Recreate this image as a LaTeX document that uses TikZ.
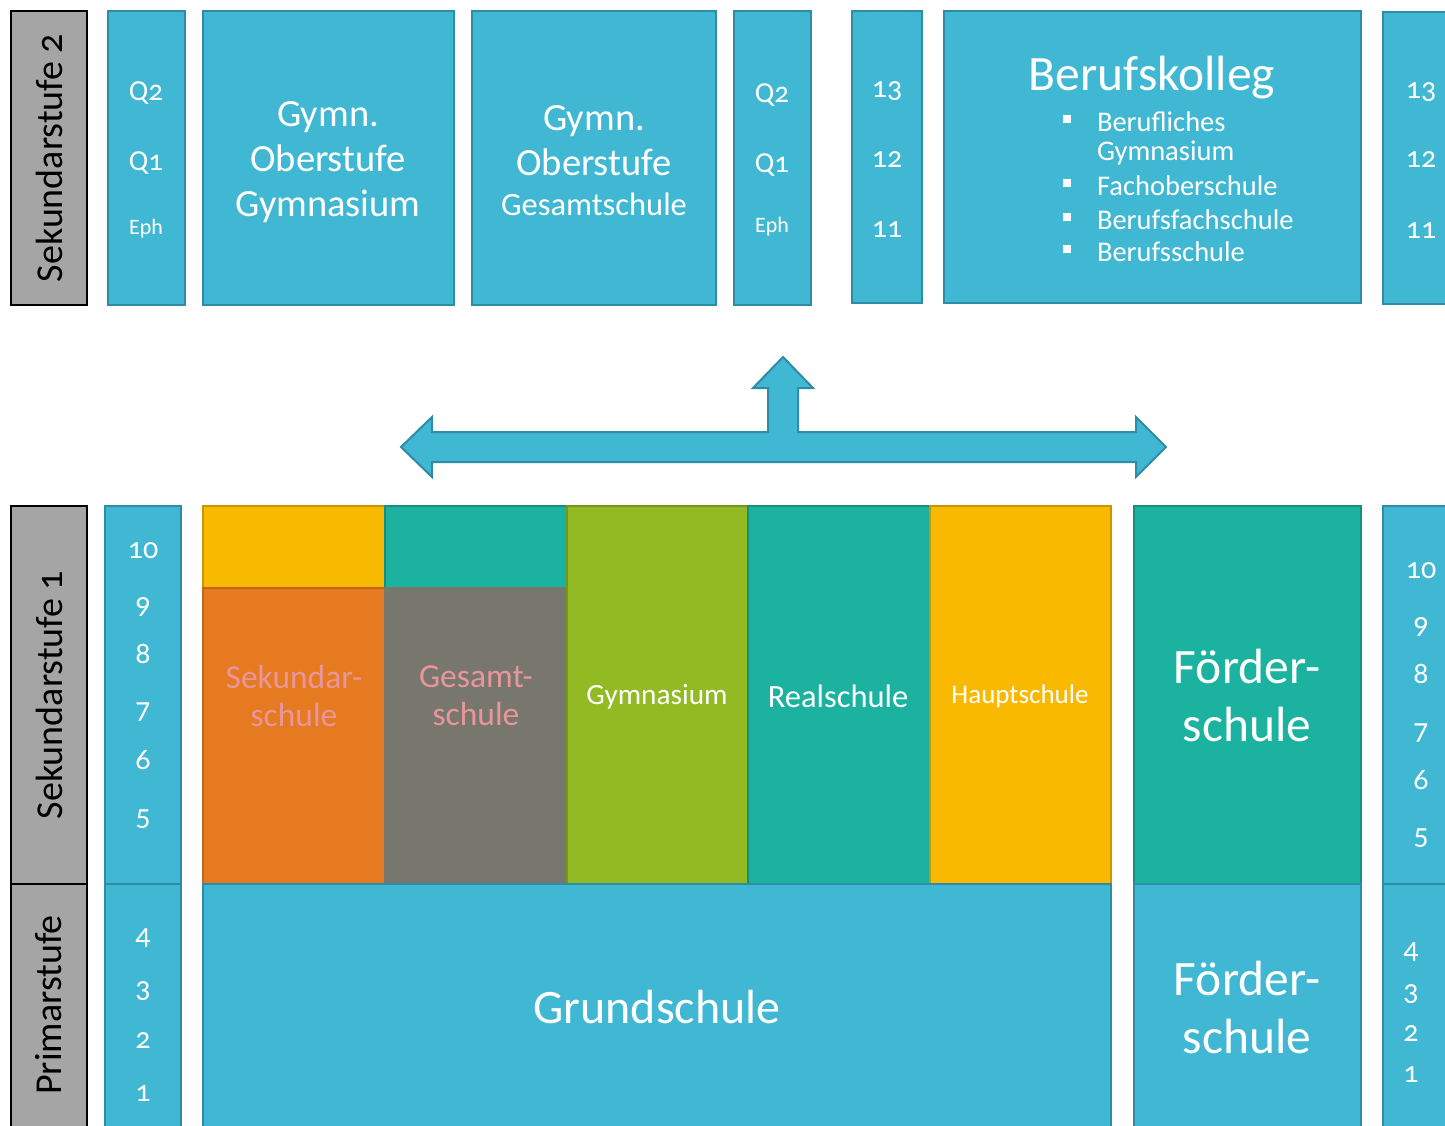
\documentclass[tikz,border=0pt]{standalone}
\usepackage{fontspec}
\setmainfont{Carlito}[Numbers=OldStyle]
\definecolor{cblue}{HTML}{41B8D3}
\definecolor{dblue}{HTML}{2E8CA6}
\definecolor{cteal}{HTML}{1BB3A0}
\definecolor{dteal}{HTML}{168F80}
\definecolor{cgreen}{HTML}{92BB23}
\definecolor{dgreen}{HTML}{75961C}
\definecolor{corange}{HTML}{E67A20}
\definecolor{dorange}{HTML}{C0651A}
\definecolor{cyellow}{HTML}{F9B900}
\definecolor{dyellow}{HTML}{C99600}
\definecolor{cgray}{HTML}{77776E}
\definecolor{lgray}{HTML}{A5A5A5}
\definecolor{pinktext}{HTML}{E8969B}
\newcommand{\fs}[1]{\fontsize{#1}{#1}\selectfont}
\begin{document}
\begin{tikzpicture}[x=1pt,y=-1pt,
  every node/.style={inner sep=0pt, outer sep=0pt, text=white, font=\fs{24}},
  rbox/.style={anchor=north west, line width=2pt},
  bluebox/.style={rbox, draw=dblue, fill=cblue},
  tealbox/.style={rbox, draw=dteal, fill=cteal},
  greenbox/.style={rbox, draw=dgreen, fill=cgreen},
  orangebox/.style={rbox, draw=dorange, fill=corange},
  yellowbox/.style={rbox, draw=dyellow, fill=cyellow},
  graybox/.style={rbox, draw=cgray, fill=cgray},
  labelbox/.style={rbox, draw=black, fill=lgray},
  labeltext/.style={rotate=90, text=black, font=\fs{38}},
  num/.style={font=\fs{30}},
  big/.style={align=center, font=\fontsize{38.5}{45}\selectfont},
]
\useasboundingbox (0,0) rectangle (1445,1126);
\clip (0,0) rectangle (1445,1126);

% ---------- Sekundarstufe 2 ----------
\node[labelbox, minimum width=76, minimum height=294] (s2) at (11,11) {};
\node[labeltext] (s2t) at (49,158) {Sekundarstufe 2};

\node[bluebox, minimum width=77, minimum height=294] (qa) at (108,11) {};
\node[font=\fs{29}] (qa2) at (146,93) {Q2};
\node[font=\fs{29}] (qa1) at (146,163) {Q1};
\node[font=\fs{22}] (qae) at (146,229) {Eph};

\node[bluebox, minimum width=251, minimum height=294] (gym) at (203,11) {};
\node[big] (gymt) at (328,162) {Gymn.\\Oberstufe\\Gymnasium};

\node[bluebox, minimum width=244, minimum height=294] (ges) at (472,11) {};
\node[big] (gest) at (594,141) {Gymn.\\Oberstufe};
\node[font=\fs{32.5}] (gest2) at (594,204) {Gesamtschule};

\node[bluebox, minimum width=77, minimum height=294] (qb) at (734,11) {};
\node[font=\fs{29}] (qb2) at (772,95) {Q2};
\node[font=\fs{29}] (qb1) at (772,165) {Q1};
\node[font=\fs{22}] (qbe) at (772,227) {Eph};

\node[bluebox, minimum width=70, minimum height=292] (ka) at (852,11) {};
\node[num] (ka13) at (887,91) {13};
\node[num] (ka12) at (887,160) {12};
\node[num] (ka11) at (887,230) {11};

\node[bluebox, minimum width=417, minimum height=292] (bk) at (944,11) {};
\node[font=\fs{49.5}] (bkt) at (1152,78) {Berufskolleg};
\foreach \yy/\tt [count=\i] in {122/Berufliches, 153/Gymnasium, 186/Fachoberschule, 220/Berufsfachschule, 252/Berufsschule}{
  \node[anchor=west, font=\fs{28.5}] (bkl\i) at (1097,\yy) {\tt};
}
\foreach \yy [count=\i] in {122,186,220,252}{
  \node[fill=white, minimum width=8, minimum height=8] (bkb\i) at (1067,\yy-3) {};
}

\node[bluebox, minimum width=80, minimum height=292] (kb) at (1383,12) {};
\node[num] (kb13) at (1421,92) {13};
\node[num] (kb12) at (1421,160) {12};
\node[num] (kb11) at (1421,231) {11};

% ---------- block arrow ----------
\coordinate (al) at (401,447);
\coordinate (ar) at (1166,447);
\coordinate (au) at (783,357);
\draw[draw=dblue, fill=cblue, line width=2pt, line join=miter]
  (al) -- (432,417) -- (432,432) -- (768,432) -- (768,388) -- (753,388) -- (au)
  -- (813,388) -- (798,388) -- (798,432) -- (1136,432) -- (1136,417) -- (ar)
  -- (1136,477) -- (1136,462) -- (432,462) -- (432,477) -- cycle;

% ---------- Sekundarstufe 1 / Primarstufe ----------
\node[labelbox, minimum width=76, minimum height=378] (s1) at (11,506) {};
\node[labeltext] (s1t) at (49,695) {Sekundarstufe 1};
\node[labelbox, minimum width=76, minimum height=260] (pr) at (11,884) {};
\node[labeltext] (prt) at (49,1005) {Primarstufe};

\node[bluebox, minimum width=76, minimum height=378] (ga) at (105,506) {};
\node[bluebox, minimum width=76, minimum height=260] (gb) at (105,884) {};
\foreach \n/\yy in {10/551, 9/607, 8/654, 7/712, 6/760, 5/819, 4/938, 3/991, 2/1041, 1/1094}{
  \node[num] (gl\n) at (143,\yy) {\n};
}

\node[yellowbox, minimum width=182, minimum height=82] (sekt) at (203,506) {};
\node[orangebox, minimum width=182, minimum height=296] (sek) at (203,588) {};
\node[align=center, text=pinktext, font=\fontsize{33.5}{38}\selectfont] (sekx) at (294,696) {Sekundar-\\schule};

\node[tealbox, minimum width=182, minimum height=82] (gestop) at (385,506) {};
\node[graybox, minimum width=182, minimum height=296] (gesb) at (385,588) {};
\node[align=center, text=pinktext, font=\fontsize{33.5}{38}\selectfont] (gesx) at (476,696) {Gesamt-\\schule};

\node[greenbox, minimum width=181, minimum height=378] (gy) at (567,506) {};
\node[font=\fs{29.3}] (gyx) at (657,697) {Gymnasium};
\node[tealbox, minimum width=182, minimum height=378] (rs) at (748,506) {};
\node[font=\fs{32.5}] (rsx) at (838,696) {Realschule};
\node[yellowbox, minimum width=181, minimum height=378] (hs) at (930,506) {};
\node[font=\fs{27}] (hsx) at (1020,696) {Hauptschule};

\node[bluebox, minimum width=908, minimum height=260] (gs) at (203,884) {};
\node[font=\fs{48}] (gsx) at (657,1007) {Grundschule};

\node[tealbox, minimum width=227, minimum height=378] (fa) at (1134,506) {};
\node[align=center, font=\fontsize{49.5}{58}\selectfont] (fax) at (1247,695) {Förder-\\schule};
\node[bluebox, minimum width=227, minimum height=260] (fb) at (1134,884) {};
\node[align=center, font=\fontsize{49.5}{58}\selectfont] (fbx) at (1247,1007) {Förder-\\schule};

\node[bluebox, minimum width=80, minimum height=378] (gc) at (1383,506) {};
\node[bluebox, minimum width=80, minimum height=260] (gd) at (1383,884) {};
\foreach \n/\yy in {10/571, 9/627, 8/674, 7/733, 6/780, 5/838}{
  \node[num] (gr\n) at (1421,\yy) {\n};
}
\foreach \n/\yy in {4/952, 3/994, 2/1034, 1/1075}{
  \node[num] (gr\n) at (1411,\yy) {\n};
}
\end{tikzpicture}
\end{document}
